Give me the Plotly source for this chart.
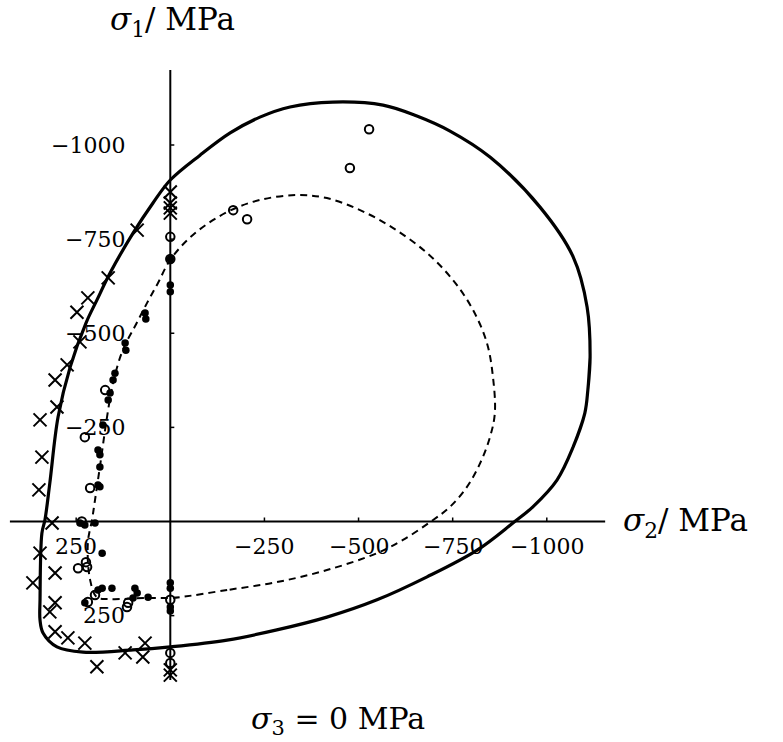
import plotly.graph_objects as go

# ---- data (sigma2, sigma1) in MPa ----
solid_s2 = [0, -79, -159, -238, -318, -432, -565, -655, -743, -849, -982, -1070, -1107, -1115, -1109, -1101,
            -1070, -1027, -963, -910, -815, -682, -549, -416, -283, -151, 0, 99, 232, 301, 338, 346, 346,
            341, 333, 320, 298, 266, 224, 195, 160, 99, 46]
solid_s1 = [-907, -973, -1032, -1074, -1101, -1114, -1106, -1077, -1037, -968, -835, -703, -570, -437, -349, -288,
            -198, -110, -39, 4, 76, 147, 208, 254, 288, 315, 333, 341, 347, 333, 296, 262, 208,
            31, -4, -102, -278, -410, -527, -588, -660, -766, -846]

dash_s2 = [0, -60, -151, -238, -337, -416, -504, -591, -682, -751, -804, -841, -857, -862, -849, -823,
           -788, -743, -698, -618, -549, -416, -283, -151, -26, 0, 62, 160, 195, 213, 219, 208, 200, 187,
           168, 152, 126, 92, 62, 33]
dash_s1 = [-695, -761, -822, -854, -867, -859, -827, -780, -713, -641, -562, -474, -384, -288, -224, -155,
           -92, -39, -4, 49, 84, 129, 161, 182, 201, 203, 203, 206, 201, 155, 57, -4, -57, -145,
           -278, -368, -456, -522, -580, -633]

cross_s2 = [88, 165, 219, 248, 240, 274, 306, 301, 346, 341, 349, 314, 346, 306, 365, 306, 320, 306,
            272, 227, 195, 120, 67, 73, 0, 0, 0, 0, 0, 0]
cross_s1 = [-774, -647, -594, -556, -477, -416, -376, -304, -270, -171, -84, 4, 84, 137, 163, 216, 240, 293,
            309, 323, 386, 349, 323, 360, -875, -846, -833, -819, 394, 408]

open_s2 = [-528, -477, -167, -204, 0, 0, 0, 0, 0, 173, 227, 213, 235, 224, 245, 221, 200, 219, 112, 115]
open_s1 = [-1042, -939, -827, -803, -756, -697, 208, 349, 376, -349, -224, -89, 0, 108, 124, 121, 195, 214,
           216, 227]

fill_s2 = [0, 0, 0, 0, 0, 0, 0, 67, 65, 120, 118, 147, 152, 160, 165, 179, 192, 187, 187, 192, 187, 240,
           227, 200, 181, 192, 181, 155, 227, 94, 88, 99, 59]
fill_s1 = [-697, -628, -610, 163, 177, 227, 238, -554, -538, -474, -455, -394, -376, -341, -323, -256,
           -190, -177, -145, -97, -92, 4, 9, 4, 84, 182, 177, 177, 216, 177, 190, 203, 201]

x_ticks = [250, -250, -500, -750, -1000]
x_tick_labels = ["250", "\u2212250", "\u2212500", "\u2212750", "\u22121000"]
y_ticks = [-1000, -750, -500, -250, 250]
y_tick_labels = ["\u22121000", "\u2212750", "\u2212500", "\u2212250", "250"]

x_axis_extent = [426, -1155]
y_axis_extent = [-1199, 421]

FONT = "DejaVu Serif"
W, H = 783, 742


def closed_path(xs, ys, start, overlap):
    """Rotate a closed loop so it starts at index `start`, and repeat
    `overlap` points at the end so the spline joins smoothly."""
    n = len(xs)
    idx = [(start + i) % n for i in range(n + overlap)]
    return [xs[i] for i in idx], [ys[i] for i in idx]


fig = go.Figure()

# axes lines
fig.add_trace(go.Scatter(x=x_axis_extent, y=[0, 0], mode="lines",
                         line=dict(color="black", width=2), hoverinfo="skip"))
fig.add_trace(go.Scatter(x=[0, 0], y=y_axis_extent, mode="lines",
                         line=dict(color="black", width=2), hoverinfo="skip"))

# curves
sx, sy = closed_path(solid_s2, solid_s1, 13, 4)
fig.add_trace(go.Scatter(x=sx, y=sy, mode="lines",
                         line=dict(color="black", width=3.2, shape="spline", smoothing=1.0)))
dx, dy = closed_path(dash_s2, dash_s1, 22, 1)
fig.add_trace(go.Scatter(x=dx, y=dy, mode="lines",
                         line=dict(color="black", width=2, dash="7px,5px", shape="spline", smoothing=1.0)))

# markers
fig.add_trace(go.Scatter(x=cross_s2, y=cross_s1, mode="markers",
                         marker=dict(symbol="x-thin", size=13, line=dict(color="black", width=2))))
fig.add_trace(go.Scatter(x=fill_s2, y=fill_s1, mode="markers",
                         marker=dict(symbol="circle", size=7.5, color="black")))
fig.add_trace(go.Scatter(x=open_s2, y=open_s1, mode="markers",
                         marker=dict(symbol="circle-open", size=8.5, color="black",
                                     line=dict(color="black", width=2))))

# tick marks
shapes = []
for t in x_ticks:
    shapes.append(dict(type="line", xref="x", yref="y", ysizemode="pixel", yanchor=0,
                       x0=t, x1=t, y0=0, y1=4, line=dict(color="black", width=1.5)))
for t in y_ticks:
    shapes.append(dict(type="line", xref="x", yref="y", xsizemode="pixel", xanchor=0,
                       x0=0, x1=4, y0=t, y1=t, line=dict(color="black", width=1.5)))

annotations = []
for t, lab in zip(x_ticks, x_tick_labels):
    annotations.append(dict(x=t, y=0, xref="x", yref="y", text=lab, showarrow=False,
                            xanchor="center", yanchor="middle", yshift=-25,
                            font=dict(family=FONT, size=22, color="black")))
for t, lab in zip(y_ticks, y_tick_labels):
    annotations.append(dict(x=0, y=t, xref="x", yref="y", text=lab, showarrow=False,
                            xanchor="right", yanchor="middle", xshift=-43,
                            font=dict(family=FONT, size=22, color="black")))

# axis titles
annotations.append(dict(x=172 / W, y=1 - 22 / H, xref="paper", yref="paper",
                        text="<i>σ</i><sub>1</sub>/ MPa", showarrow=False,
                        xanchor="center", yanchor="middle",
                        font=dict(family=FONT, size=31, color="black")))
annotations.append(dict(x=621 / W, y=1 - 522 / H, xref="paper", yref="paper",
                        text="<i>σ</i><sub>2</sub>/ MPa", showarrow=False,
                        xanchor="left", yanchor="middle",
                        font=dict(family=FONT, size=31, color="black")))
annotations.append(dict(x=338 / W, y=1 - 720 / H, xref="paper", yref="paper",
                        text="<i>σ</i><sub>3</sub> = 0 MPa", showarrow=False,
                        xanchor="center", yanchor="middle",
                        font=dict(family=FONT, size=30, color="black")))

# pixel mapping: origin at (170.3, 521.5), 0.3765 px per MPa
k = 0.3765
ox, oy = 170.3, 521.5
x_range = [ox / k, -(W - ox) / k]
y_range = [(H - oy) / k, -oy / k]

fig.update_layout(
    width=W, height=H,
    margin=dict(l=0, r=0, t=0, b=0),
    paper_bgcolor="white", plot_bgcolor="white",
    showlegend=False,
    xaxis=dict(range=x_range, visible=False, showgrid=False, zeroline=False, fixedrange=True),
    yaxis=dict(range=y_range, visible=False, showgrid=False, zeroline=False, fixedrange=True),
    shapes=shapes,
    annotations=annotations,
)

fig.write_html("out.html", config={"displayModeBar": False},
               post_script="document.body.style.margin='0';")
